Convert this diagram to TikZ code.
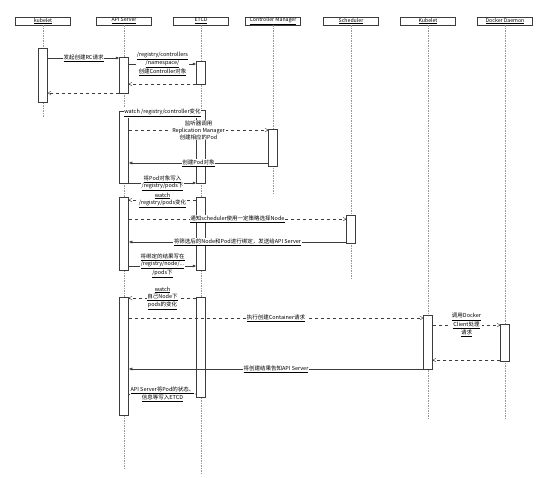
\documentclass[tikz,border=0pt]{standalone}
\usepackage{fontspec}
\setmainfont{Noto Sans CJK SC}
\usetikzlibrary{arrows.meta,positioning}
\definecolor{linegray}{RGB}{60,60,60}
\definecolor{lifegray}{RGB}{150,150,150}
\newcommand{\utxt}[1]{\underline{#1}}

\begin{document}
\begin{tikzpicture}[
    x=1pt, y=-1pt,
    every node/.style={font=\fontsize{5.5}{7}\selectfont, text=black},
    actor/.style={rectangle, draw=linegray, fill=white, minimum width=55pt, minimum height=8pt, inner sep=0pt, line width=0.5pt, font=\fontsize{5.2}{6}\selectfont},
    life/.style={draw=lifegray, dash pattern=on 1.5pt off 1pt, line width=0.4pt},
    act/.style={rectangle, draw=linegray, fill=white, minimum width=9pt, inner sep=0pt, line width=0.5pt},
    call/.style={-{Latex[length=3.5pt,width=3pt]}, draw=linegray, line width=0.5pt},
    reply/.style={-{Straight Barb[length=3pt,width=4pt]}, draw=linegray, dashed, line width=0.4pt},
    lbl/.style={fill=white, align=center, inner sep=0.8pt}
]
\fill[white] (0,0) rectangle (541,477);
\useasboundingbox (0,0) rectangle (541,477);

% Lifeline heads
\node[actor] (kubectl) at (43,21) {\utxt{kubelet}};
\node[actor] (api) at (124,21) {\utxt{API Server}};
\node[actor] (etcd) at (201,21) {\utxt{ETCD}};
\node[actor] (cm) at (273,21) {\utxt{Controller Manager}};
\node[actor] (sched) at (351,21) {\utxt{Scheduler}};
\node[actor] (kubelet) at (428,21) {\utxt{Kubelet}};
\node[actor] (docker) at (505,21) {\utxt{Docker Daemon}};

% Lifelines
\coordinate (kubectlEnd) at (43,117);
\coordinate (apiEnd) at (124,470);
\coordinate (etcdEnd) at (201,473);
\coordinate (cmEnd) at (273,195);
\coordinate (schedEnd) at (351,280);
\coordinate (kubeletEnd) at (428,420);
\coordinate (dockerEnd) at (505,420);
\foreach \who in {kubectl,api,etcd,cm,sched,kubelet,docker}
  \draw[life] (\who.south) -- (\who End);

% Activations
\node[act, minimum height=54pt] (kub1) at (43,75) {};
\node[act, minimum height=36pt] (api1) at (124,75) {};
\node[act, minimum height=23pt] (etcd1) at (201,72.5) {};
\node[act, minimum height=72pt] (api2) at (124,147) {};
\node[act, minimum height=73pt] (etcd2) at (201,146.5) {};
\node[act, minimum height=37pt] (cm1) at (273,147.5) {};
\node[act, minimum height=73pt] (api3) at (124,233.5) {};
\node[act, minimum height=73pt] (etcd3) at (201,233.5) {};
\node[act, minimum height=28pt] (sch1) at (351,229) {};
\node[act, minimum height=118pt] (api4) at (124,356) {};
\node[act, minimum height=100pt] (etcd4) at (201,347) {};
\node[act, minimum height=54pt] (kubl1) at (428,342) {};
\node[act, minimum height=37pt] (dock1) at (505,342.5) {};

% Create RC
\draw[call] (kub1.east |- 0,58) -- node[lbl] {\utxt{发起创建RC请求}} (api1.west |- 0,58);
\draw[call] (api1.east |- 0,64) -- node[lbl] {\utxt{/registry/controllers}\\\utxt{/namespace/}\\\utxt{创建Controller对象}} (etcd1.west |- 0,64);
\draw[reply] (etcd1.west |- 0,84) -- (api1.east |- 0,84);
\draw[reply] (api1.west |- 0,93) -- (kub1.east |- 0,93);

% Controller Manager
\draw[reply] (etcd2.west |- 0,113) -- node[lbl] {\utxt{watch /registry/controller变化}} (api2.east |- 0,113);
\draw[reply] (api2.east |- 0,130) -- node[lbl] {监听器调用\\Replication Manager\\创建相应的Pod} (cm1.west |- 0,130);
\draw[call] (cm1.west |- 0,163) -- node[lbl] {\utxt{创建Pod对象}} (api2.east |- 0,163);
\draw[call] (api2.east |- 0,183) -- node[lbl] {\utxt{将Pod对象写入}\\\utxt{/registry/pods下}} (etcd2.west |- 0,183);

% Scheduler
\draw[reply] (etcd3.west |- 0,200) -- node[lbl] {\utxt{watch}\\\utxt{/registry/pods变化}} (api3.east |- 0,200);
\draw[reply] (api3.east |- 0,219) -- node[lbl] {\utxt{通知scheduler使用一定策略选择Node}} (sch1.west |- 0,219);
\draw[call] (sch1.west |- 0,242) -- node[lbl] {\utxt{将筛选后的Node和Pod进行绑定，发送给API Server}} (api3.east |- 0,242);
\draw[call] (api3.east |- 0,266) -- node[lbl] {\utxt{将绑定的结果写在}\\\utxt{/registry/node/...}\\\utxt{/pods下}} (etcd3.west |- 0,266);

% Kubelet
\draw[reply] (etcd4.west |- 0,298) -- node[lbl] {\utxt{watch}\\\utxt{自己Node下}\\\utxt{pods的变化}} (api4.east |- 0,298);
\draw[reply] (api4.east |- 0,318) -- node[lbl] {\utxt{执行创建Container请求}} (kubl1.west |- 0,318);
\draw[reply] (kubl1.east |- 0,325) -- node[lbl] {\utxt{调用Docker}\\\utxt{Client处理}\\\utxt{请求}} (dock1.west |- 0,325);
\draw[reply] (dock1.west |- 0,360) -- (kubl1.east |- 0,360);
\draw[call] (kubl1.west |- 0,369) -- node[lbl] {\utxt{将创建结果告知API Server}} (api4.east |- 0,369);
\draw[call] (api4.east |- 0,394) -- node[lbl] {\utxt{API Server将Pod的状态、}\\\utxt{信息等写入ETCD}} (etcd4.west |- 0,394);

\end{tikzpicture}
\end{document}
